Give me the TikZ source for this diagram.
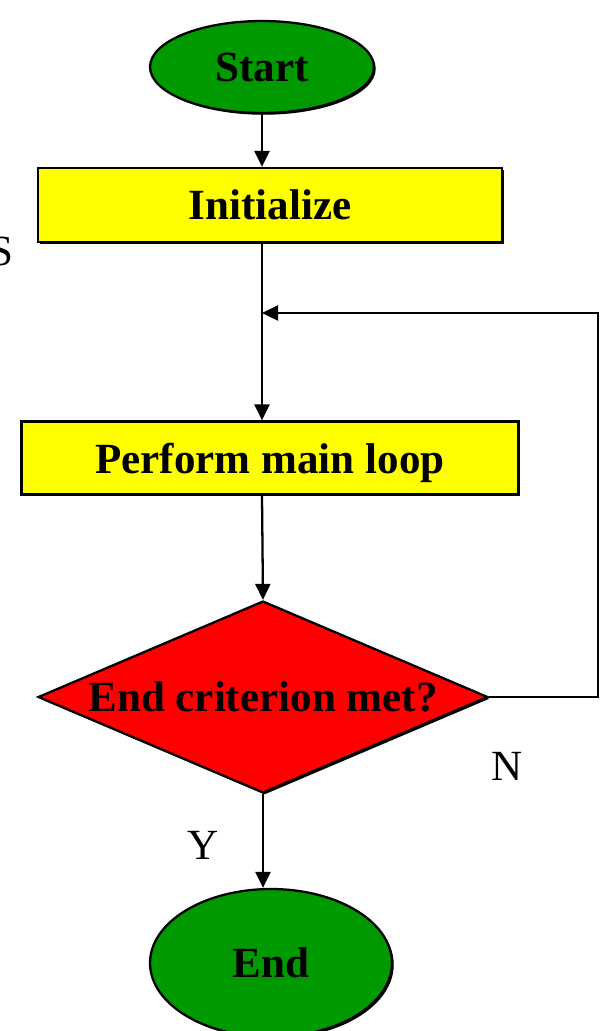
\documentclass[tikz,border=0pt]{standalone}
\usepackage{fontspec}
\setmainfont{Liberation Serif}
\usetikzlibrary{arrows.meta,positioning,shapes.geometric,shadows}
\definecolor{ink}{HTML}{000000}
\definecolor{termgreen}{HTML}{009900}
\definecolor{stepyellow}{HTML}{FFFF00}
\definecolor{testred}{HTML}{FF0000}
\tikzset{
  shade/.style={drop shadow={shadow xshift=0.035cm,shadow yshift=-0.035cm,fill=ink,opacity=1}},
  terminal/.style={ellipse,draw=ink,fill=termgreen,line width=1.3pt,shade,inner sep=0pt,text depth=0pt,font=\fontsize{24.5}{28}\selectfont\bfseries},
  stepbox/.style={rectangle,draw=ink,fill=stepyellow,line width=1.3pt,shade,inner sep=0pt,text depth=0pt,font=\fontsize{24.5}{28}\selectfont\bfseries},
  test/.style={diamond,draw=ink,fill=testred,line width=1.3pt,shade,inner sep=0pt,aspect=2.34,text depth=0pt,font=\fontsize{24.5}{28}\selectfont\bfseries},
  tag/.style={font=\fontsize{24.5}{28}\selectfont,inner sep=0pt},
  flow/.style={-{Triangle[length=3.2mm,width=3mm]},line width=1.3pt,draw=ink},
  plain/.style={line width=1.3pt,draw=ink}
}
\begin{document}
\begin{tikzpicture}[x=0.02cm,y=-0.02cm]
  \useasboundingbox (0,0) rectangle (601,1031);
  % nodes
  \node[terminal,minimum width=4.48cm,minimum height=1.84cm] (start) at (262,67) {Start};
  \node[stepbox,minimum width=9.28cm,minimum height=1.48cm] (init) at (270,205) {Initialize};
  \node[stepbox,minimum width=9.94cm,minimum height=1.46cm] (loop) at (270,458) {Perform main loop};
  \node[test,minimum width=9cm,minimum height=3.84cm] (check) at (263,697) {End criterion met?};
  \node[terminal,minimum width=4.84cm,minimum height=2.96cm] (stop) at (271,963) {End};
  \node[tag,anchor=east] (cut) at (14,251) {S};
  \node[tag] (no) at (507,766) {N};
  \node[tag] (yes) at (203,845) {Y};
  \coordinate (back) at (262,313);
  \coordinate (corner) at (598,313);
  % connectors
  \draw[flow] (start.south) -- (start.south |- init.north);
  \draw[flow] (back |- init.south) -- (back |- loop.north);
  \draw[flow] (back |- loop.south) -- (check.north);
  \draw[flow] (check.east) -| (corner) -- (back);
  \draw[flow] (check.south) -- (check.south |- stop.north);
\end{tikzpicture}
\end{document}
